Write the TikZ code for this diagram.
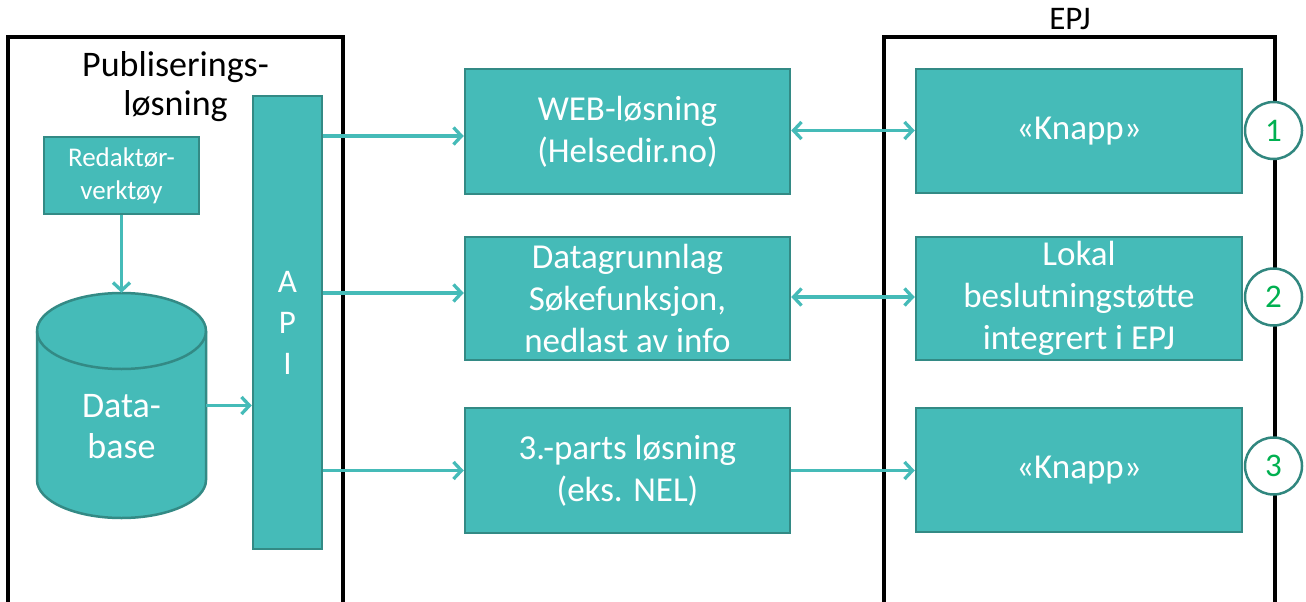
\documentclass[tikz,border=0pt]{standalone}
\usepackage{fontspec}
\setmainfont{Carlito}
\usetikzlibrary{arrows.meta}
\definecolor{boxfill}{HTML}{45BBB8}
\definecolor{boxline}{HTML}{338A85}
\definecolor{linkcol}{HTML}{45BBB8}
\definecolor{ringcol}{HTML}{31877F}
\definecolor{numcol}{HTML}{00B050}
\tikzset{
  frame/.style={draw=black, line width=3.2pt},
  box/.style={draw=boxline, fill=boxfill, line width=2.5pt, text=white, align=center,
              font=\fontsize{35}{42}\selectfont, inner sep=2pt},
  link/.style={draw=linkcol, line width=3.3pt, -{Straight Barb[length=8pt,width=17pt]}},
  duplex/.style={draw=linkcol, line width=3.3pt, {Straight Barb[length=8pt,width=17pt]}-{Straight Barb[length=8pt,width=17pt]}},
  ring/.style={circle, draw=ringcol, fill=white, line width=2.5pt, minimum size=57pt,
               inner sep=0pt, text=numcol, font=\fontsize{33}{33}\selectfont},
  title/.style={text=black, align=center, font=\fontsize{36}{39}\selectfont}
}
\begin{document}
\begin{tikzpicture}[x=1pt, y=1pt]
\useasboundingbox (0,0) rectangle (1306,-602);

% outer frames, open at the bottom
\draw[frame] (8,-602) -- (8,-37) -- (343,-37) -- (343,-602);
\draw[frame] (884,-602) -- (884,-37) -- (1275,-37) -- (1275,-602);

\node[title] (pub) at (175.5,-87) {Publiserings-\\løsning};
\node[title, font=\fontsize{33}{36}\selectfont] (epj) at (1070,-19) {EPJ};

% publishing solution internals
\node[box, minimum width=155pt, minimum height=77pt, font=\fontsize{27}{33}\selectfont]
  (red) at (121.5,-175.5) {Redaktør-\\verktøy};

% database cylinder
\draw[draw=boxline, fill=boxfill, line width=2.5pt]
  (37,-331) -- (37,-480) arc[start angle=180, end angle=360, x radius=84.5, y radius=38]
  -- (206,-331) arc[start angle=0, end angle=180, x radius=84.5, y radius=38] -- cycle;
\draw[draw=boxline, line width=2.5pt]
  (37,-331) arc[start angle=180, end angle=360, x radius=84.5, y radius=38];
\node[minimum width=169pt, minimum height=225pt, inner sep=0pt] (db) at (121.5,-405.5) {};
\node[text=white, align=center, font=\fontsize{36}{41}\selectfont] (dbtext) at (121.5,-427) {Data-\\base};

\node[box, minimum width=69pt, minimum height=453pt, font=\fontsize{33}{41}\selectfont]
  (api) at (287.5,-322.5) {A\\P\\I};

% middle column
\node[box, minimum width=325pt, minimum height=125pt] (web) at (627.5,-131.5) {WEB-løsning\\(Helsedir.no)};
\node[box, minimum width=325pt, minimum height=123pt] (data) at (627.5,-298.5) {Datagrunnlag\\Søkefunksjon,\\nedlast av info};
\node[box, minimum width=325pt, minimum height=125pt] (third) at (627.5,-470.5) {3.-parts løsning\\(eks. NEL)};

% EPJ column
\node[box, minimum width=326pt, minimum height=124pt] (k1) at (1079,-131) {«Knapp»};
\node[box, minimum width=326pt, minimum height=123pt] (lok) at (1079,-298.5) {Lokal\\beslutningstøtte\\integrert i EPJ};
\node[box, minimum width=326pt, minimum height=124pt] (k3) at (1079,-470) {«Knapp»};

\node[ring] (n1) at (1273.5,-130.5) {1};
\node[ring] (n2) at (1273.5,-297) {2};
\node[ring] (n3) at (1273.5,-466) {3};

% connectors
\draw[link] (red.south) -- (db.north);
\draw[link] (db.east) -- (api.west |- db.east);
\draw[link] ([yshift=-4.5pt]api.east |- web.west) -- ([yshift=-4.5pt]web.west);
\draw[link] ([yshift=5.5pt]api.east |- data.west) -- ([yshift=5.5pt]data.west);
\draw[link] (api.east |- third.west) -- (third.west);
\draw[duplex] ([yshift=1pt]web.east) -- ([yshift=1pt]web.east -| k1.west);
\draw[duplex] ([yshift=1.5pt]data.east) -- ([yshift=1.5pt]data.east -| lok.west);
\draw[link] (third.east) -- (third.east -| k3.west);
\end{tikzpicture}
\end{document}
